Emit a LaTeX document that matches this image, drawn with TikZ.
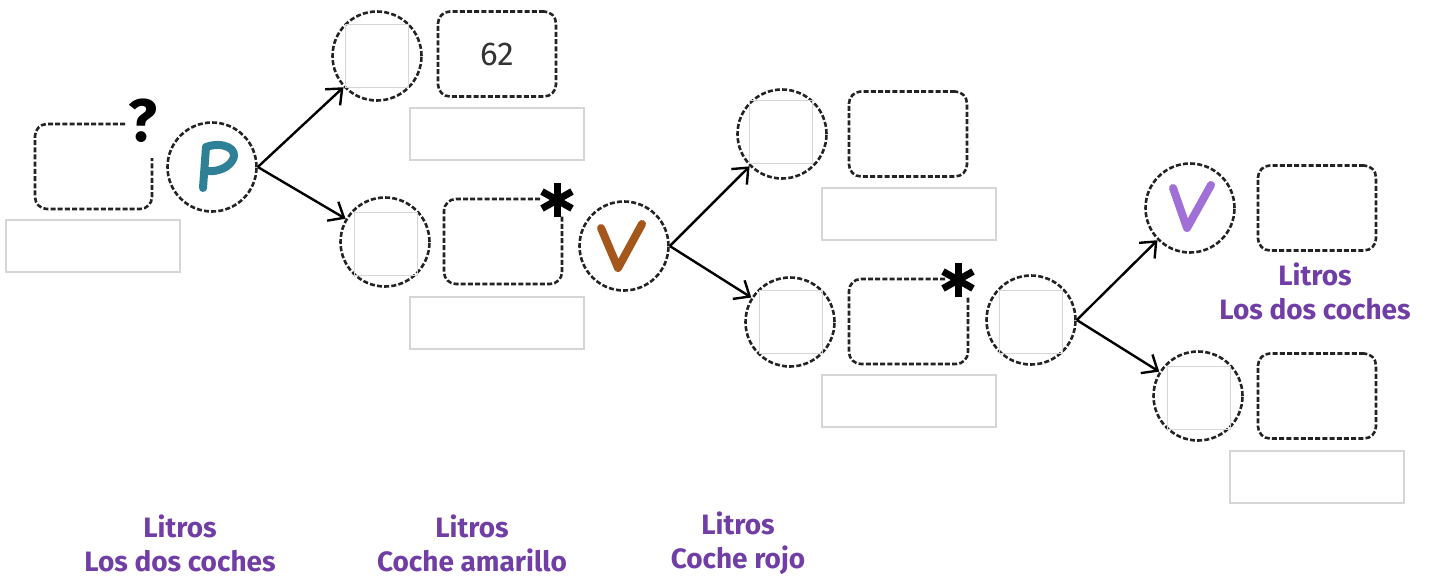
\documentclass[tikz,border=0pt]{standalone}
\usepackage{fontspec}
\setmainfont{Fira Sans}
\usetikzlibrary{arrows.meta}
\definecolor{lblpurple}{RGB}{112,62,165}
\definecolor{pteal}{RGB}{46,128,150}
\definecolor{vbrown}{RGB}{165,86,26}
\definecolor{vpurple}{RGB}{160,112,214}
\definecolor{dashgrey}{RGB}{35,35,35}
\definecolor{boxgrey}{RGB}{214,214,214}
\tikzset{
  dashline/.style={draw=dashgrey,line width=2.6pt,dash pattern=on 5pt off 2.2pt},
  ring/.style={circle,dashline,minimum size=89pt,inner sep=0pt},
  card/.style={rectangle,dashline,rounded corners=12pt,minimum width=118pt,minimum height=85pt,inner sep=0pt},
  slot/.style={rectangle,draw=boxgrey,line width=1.2pt,minimum width=174pt,minimum height=52pt,inner sep=0pt},
  sq/.style={rectangle,draw=boxgrey,line width=1.2pt,minimum size=63pt,inner sep=0pt},
  link/.style={draw=black,line width=2.4pt,-{Straight Barb[length=13pt,width=22pt,line width=2.4pt]}},
  lbl/.style={text=lblpurple,font=\fontsize{28}{34}\selectfont\bfseries,align=center,inner sep=0pt},
  letter/.style={line width=8pt,line cap=round,line join=round},
  starline/.style={line width=7pt,line cap=butt}
}
\newcommand\mystar[2]{%
  \begin{scope}[shift={(#1,#2)}]
    \draw[starline] (0,-17) -- (0,17);
    \draw[starline] (-15,-8.5) -- (15,8.5);
    \draw[starline] (-15,8.5) -- (15,-8.5);
  \end{scope}}
\begin{document}
\begin{tikzpicture}[x=1pt,y=-1pt]
\useasboundingbox (0,0) rectangle (1434,579);
% left start box with gap
\draw[dashline,rounded corners=12pt] (125,124) -- (35,124) -- (35,209) -- (152,209) -- (152,158);
\node[font=\fontsize{60}{60}\selectfont\bfseries] (q) at (143,121) {?};
\node[slot] (s0) at (93,246) {};
% P circle
\node[ring] (cP) at (212,167) {};
\draw[letter,pteal] (203,188) -- (206,147) .. controls (223,141) and (240,149) .. (232,161) .. controls (227,169) and (215,172) .. (207,171);
% second column
\node[ring] (c1) at (377,56) {};
\node[sq] (q1) at (377,56) {};
\node[card,font=\fontsize{33}{33}\selectfont,text=black!80] (k1) at (497,54) {62};
\node[slot] (s1) at (497,134) {};
\node[ring] (c2) at (385,242) {};
\node[sq] (q2) at (386,244) {};
\draw[dashline,rounded corners=12pt] (540,199) -- (444,199) -- (444,284) -- (562,284) -- (562,215);
\node[slot] (s2) at (497,323) {};
\mystar{557}{200}
% V brown
\node[ring] (cV) at (624,246) {};
\draw[letter,vbrown] (601,228) -- (618,268) -- (642,224);
% third column
\node[ring] (c3) at (782,134) {};
\node[sq] (q3) at (781,132) {};
\node[card] (k3) at (908,134) {};
\node[slot] (s3) at (909,214) {};
\node[ring] (c4) at (790,322) {};
\node[sq] (q4) at (791,322) {};
\draw[dashline,rounded corners=12pt] (945,279) -- (849,279) -- (849,364) -- (968,364) -- (968,296);
\node[slot] (s4) at (909,401) {};
\mystar{958}{280}
\node[ring] (c5) at (1031,320) {};
\node[sq] (q5) at (1031,322) {};
% fourth column
\node[ring] (c6) at (1190,208) {};
\draw[letter,vpurple] (1173,188) -- (1187,228) -- (1211,185);
\node[card] (k6) at (1317,208) {};
\node[lbl] (t6) at (1315,291) {Litros\\Los dos coches};
\node[ring] (c7) at (1198,396) {};
\node[sq] (q7) at (1199,398) {};
\node[card] (k7) at (1317,396) {};
\node[slot] (s7) at (1317,477) {};
% arrows
\draw[link] (cP.east) -- (c1);
\draw[link] (cP.east) -- (c2);
\draw[link] (cV.east) -- (c3);
\draw[link] (cV.east) -- (c4);
\draw[link] (c5.east) -- (c6);
\draw[link] (c5.east) -- (c7);
% bottom labels
\node[lbl] (b1) at (180,543) {Litros\\Los dos coches};
\node[lbl] (b2) at (472,543) {Litros\\Coche amarillo};
\node[lbl] (b3) at (738,543) {Litros\\Coche rojo};
\end{tikzpicture}
\end{document}
